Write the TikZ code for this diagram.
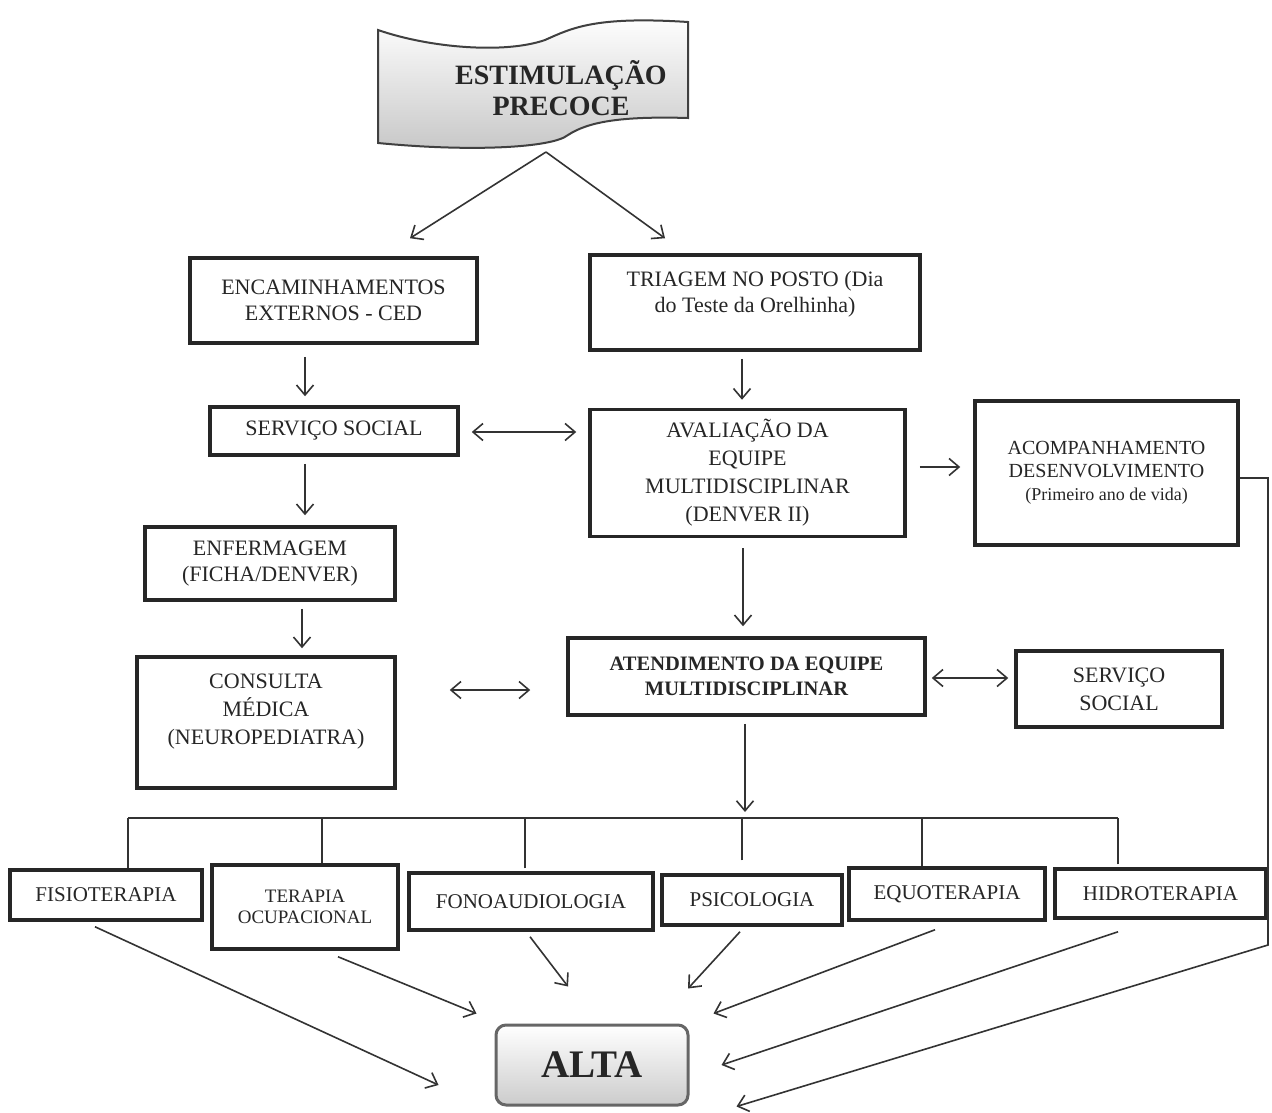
\documentclass[tikz,border=0pt]{standalone}
\usepackage{fontspec}
\setmainfont{Liberation Serif}
\usetikzlibrary{arrows.meta,calc}
\begin{document}
\begin{tikzpicture}[x=1pt,y=-1pt,
  box/.style={draw=black!85, line width=3.5pt, rectangle, inner sep=0pt, align=center, text=black!85, font=\fontsize{22}{26}\selectfont},
  small/.style={font=\fontsize{21}{24}\selectfont},
  ln/.style={draw=black!80, line width=1.6pt},
  arr/.style={ln, -{Straight Barb[length=10pt,width=17pt]}},
  darr/.style={ln, {Straight Barb[length=10pt,width=17pt]}-{Straight Barb[length=10pt,width=17pt]}}
]
\useasboundingbox (0,0) rectangle (1272,1113);
\fill[white] (0,0) rectangle (1272,1113);

% banner
\path[draw=black!75, line width=2pt, top color=white, bottom color=black!22]
  (378,30) .. controls (430,48) and (505,54) .. (545,40)
  .. controls (572,28) and (595,16) .. (688,22) -- (688,118)
  .. controls (620,116) and (588,122) .. (568,135)
  .. controls (552,148) and (470,152) .. (378,143) -- cycle;
\node[font=\bfseries\fontsize{28}{31}\selectfont, align=center, text=black!85] (est) at (561,88) {ESTIMULAÇÃO\\PRECOCE};
\coordinate (bt) at (546,152);

% boxes
\node[box, minimum width=287, minimum height=85] (enc) at (333.5,300.5) {ENCAMINHAMENTOS\\EXTERNOS - CED};
\node[box, minimum width=330, minimum height=95, text depth=22pt] (tri) at (755,302.5) {TRIAGEM NO POSTO (Dia\\do Teste da Orelhinha)};
\node[box, minimum width=248, minimum height=48] (ss1) at (334,431) {SERVIÇO SOCIAL};
\node[box, minimum width=315, minimum height=127, font=\fontsize{22}{28}\selectfont] (ava) at (747.5,473) {AVALIAÇÃO DA\\EQUIPE\\MULTIDISCIPLINAR\\(DENVER II)};
\node[box, minimum width=263, minimum height=144, font=\fontsize{20}{23}\selectfont] (aco) at (1106.5,473) {ACOMPANHAMENTO\\DESENVOLVIMENTO\\{\fontsize{18}{23}\selectfont(Primeiro ano de vida)}};
\node[box, minimum width=250, minimum height=73] (enf) at (270,563.5) {ENFERMAGEM\\(FICHA/DENVER)};
\node[box, minimum width=258, minimum height=131, font=\fontsize{22}{28}\selectfont, text depth=26pt] (con) at (266,722.5) {CONSULTA\\MÉDICA\\(NEUROPEDIATRA)};
\node[box, minimum width=357, minimum height=77, font=\bfseries\fontsize{20.5}{25}\selectfont] (ate) at (746.5,676.5) {ATENDIMENTO DA EQUIPE\\MULTIDISCIPLINAR};
\node[box, minimum width=206, minimum height=76, font=\fontsize{22}{28}\selectfont] (ss2) at (1119,689) {SERVIÇO\\SOCIAL};

\node[box, small, minimum width=192, minimum height=50] (fis) at (106,895) {FISIOTERAPIA};
\node[box, minimum width=186, minimum height=84, font=\fontsize{19}{21}\selectfont] (ter) at (305,907) {TERAPIA\\OCUPACIONAL};
\node[box, small, minimum width=244, minimum height=57] (fon) at (531,901.5) {FONOAUDIOLOGIA};
\node[box, small, minimum width=180, minimum height=50] (psi) at (752,900) {PSICOLOGIA};
\node[box, small, minimum width=196, minimum height=52] (equ) at (947,894) {EQUOTERAPIA};
\node[box, small, minimum width=211, minimum height=49] (hid) at (1160.5,893.5) {HIDROTERAPIA};

\node[draw=black!60, line width=3pt, rounded corners=10pt, top color=white, bottom color=black!20, minimum width=192, minimum height=80, font=\bfseries\fontsize{39}{42}\selectfont, text=black!85] (alta) at (592,1065) {ALTA};

% connectors top part
\draw[arr] (bt) -- ($(enc.north)+(76.5,-18)$);
\draw[arr] (bt) -- ($(tri.north)+(-90,-15)$);
\draw[arr] ($(enc.south)+(-28.5,12)$) -- ($(ss1.north)+(-29,-9)$);
\draw[arr] ($(tri.south)+(-13,7)$) -- ($(ava.north)+(-5.5,-8)$);
\draw[darr] ($(ss1.east)+(12,1)$) -- ($(ava.west)+(-12,-41)$);
\draw[arr] ($(ava.east)+(13,-6)$) -- ($(aco.west)+(-13,-6)$);
\draw[arr] ($(ss1.south)+(-29,7)$) -- ($(enf.north)+(35,-10)$);
\draw[arr] ($(enf.south)+(32,7)$) -- ($(con.north)+(36,-7)$);
\draw[darr] ($(con.east)+(53,-32.5)$) -- ($(ate.west)+(-36,13.5)$);
\draw[arr] ($(ava.south)+(-4.5,10)$) -- ($(ate.north)+(-3.5,-10)$);
\draw[darr] ($(ate.east)+(5,1.5)$) -- ($(ss2.west)+(-6,-11)$);

% bus
\coordinate (busL) at (128,818);
\coordinate (busR) at (1118,818);
\coordinate (busM) at (745,812);
\draw[arr] ($(ate.south)+(-1.5,7)$) -- (busM);
\draw[ln] (busL) -- (busR);
\draw[ln] ($(fis.north)+(22,0)$) coordinate (v1) -- (v1 |- busL);
\draw[ln] ($(ter.north)+(17,0)$) coordinate (v2) -- (v2 |- busL);
\draw[ln] ($(fon.north)+(-6,-3)$) coordinate (v3) -- (v3 |- busL);
\draw[ln] ($(psi.north)+(-10,-13)$) coordinate (v4) -- (v4 |- busL);
\draw[ln] ($(equ.north)+(-25,0)$) coordinate (v5) -- (v5 |- busL);
\draw[ln] ($(hid.north)+(-42.5,-3)$) coordinate (v6) -- (v6 |- busL);

% to ALTA
\draw[arr] ($(fis.south)+(-11,5)$) -- ($(alta.west)+(-56,20)$);
\draw[arr] ($(ter.south)+(33,6)$) -- ($(alta.north west)+(-18,-10)$);
\draw[arr] ($(fon.south)+(-1,5)$) -- ($(alta.north)+(-24,-37)$);
\draw[arr] ($(psi.south)+(-12,5)$) -- ($(alta.north)+(96,-35)$);
\draw[arr] ($(equ.south)+(-12,8)$) -- ($(alta.north east)+(24,-10)$);
\draw[arr] ($(hid.south)+(-42.5,12)$) -- ($(alta.east)+(32,0)$);
\coordinate (rc) at (1268,945);
\draw[arr] ($(aco.east)+(0,5)$) -| (rc) -- ($(alta.south east)+(47,0)$);
\end{tikzpicture}
\end{document}
